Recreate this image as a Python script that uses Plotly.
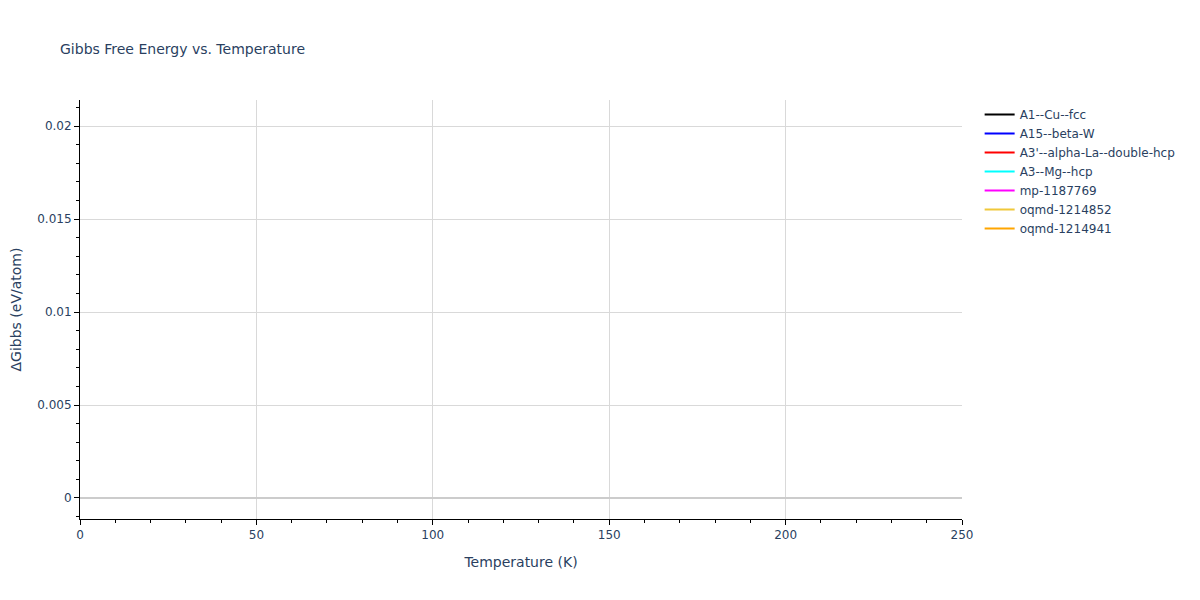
import plotly.graph_objects as go

# phases listed in the legend; no curve falls inside the shown window
phases = ["A1--Cu--fcc", "A15--beta-W", "A3'--alpha-La--double-hcp", "A3--Mg--hcp",
          "mp-1187769", "oqmd-1214852", "oqmd-1214941"]
colors = ["black", "blue", "red", "cyan", "magenta", "#f0c83a", "orange"]
temperature = [None]
dgibbs = [None]

fig = go.Figure()
for name, c in zip(phases, colors):
    fig.add_trace(go.Scatter(x=temperature, y=dgibbs, mode="lines", name=name,
                             line=dict(color=c, width=2)))

axis_style = dict(showline=True, linecolor="black", linewidth=1, ticks="outside",
                  tickcolor="black", gridcolor="#d9d9d9", zeroline=True,
                  zerolinecolor="#cccccc", zerolinewidth=2, automargin=False,
                  tickfont=dict(size=12), title_font=dict(size=14))

fig.update_layout(
    template="plotly_white",
    width=1200, height=600,
    font=dict(family="DejaVu Sans", color="#2a3f5f"),
    title=dict(text="Gibbs Free Energy vs. Temperature", x=52 / 1200, font=dict(size=14)),
    margin=dict(l=72, r=246, t=92, b=89),
    showlegend=True,
    legend=dict(x=1.02, y=1, font=dict(size=12)),
    xaxis=dict(title="Temperature (K)", range=[0, 250], dtick=50,
               minor=dict(dtick=10, ticks="outside", tickcolor="black", showgrid=False),
               **axis_style),
    yaxis=dict(title="ΔGibbs (eV/atom)", range=[-0.00113, 0.0214], dtick=0.005,
               minor=dict(dtick=0.001, ticks="outside", tickcolor="black", showgrid=False),
               **axis_style),
)
fig.write_html("out.html")
